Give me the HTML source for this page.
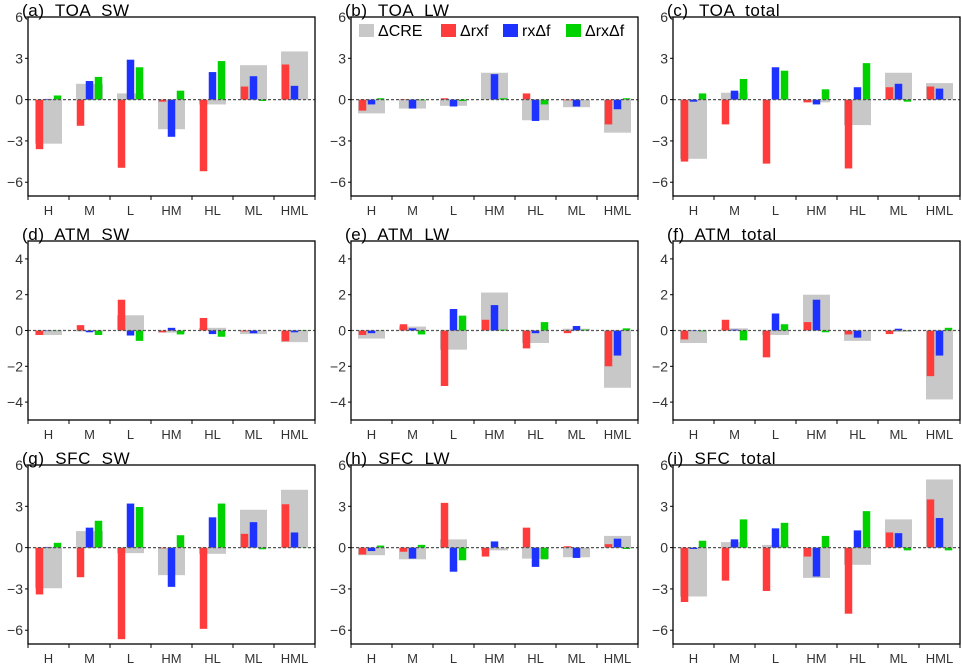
<!DOCTYPE html>
<html><head><meta charset="utf-8">
<style>
html,body{margin:0;padding:0;background:#fff;}
svg{display:block;font-family:"Liberation Sans",sans-serif;}
.ttl{white-space:pre;letter-spacing:0.6px;}
</style></head>
<body>
<svg id="chart" width="962" height="664" viewBox="0 0 962 664" xmlns="http://www.w3.org/2000/svg"></svg>
<script>
const categories = ["H","M","L","HM","HL","ML","HML"];
const panelTitles = ["(a)  TOA  SW","(b)  TOA  LW","(c)  TOA  total","(d)  ATM  SW","(e)  ATM  LW","(f)  ATM  total","(g)  SFC  SW","(h)  SFC  LW","(i)  SFC  total"];
const seriesNames = ["ΔCRE","Δrxf","rxΔf","ΔrxΔf"];
const rowYMin = [-7,-5,-7];
const rowYMax = [6,5,6];
const rowTicks = [[6,3,0,-3,-6],[4,2,0,-2,-4],[6,3,0,-3,-6]];
const creA=[-3.2,1.15,0.45,-2.15,-0.35,2.5,3.5], redA=[-3.6,-1.9,-4.95,-0.15,-5.2,0.95,2.55], bluA=[0.05,1.35,2.9,-2.7,2.0,1.7,1.0], grnA=[0.3,1.65,2.35,0.65,2.8,-0.1,0.0];
const creB=[-1.0,-0.65,-0.45,1.95,-1.5,-0.55,-2.4], redB=[-0.8,0.03,0.1,0.0,0.45,-0.05,-1.8], bluB=[-0.35,-0.65,-0.5,1.85,-1.55,-0.5,-0.7], grnB=[0.1,-0.05,-0.1,0.1,-0.35,0.0,0.1];
const creC=[-4.3,0.5,0.0,-0.2,-1.85,1.95,1.2], redC=[-4.5,-1.8,-4.65,-0.2,-5.0,0.9,0.95], bluC=[-0.15,0.65,2.35,-0.35,0.9,1.15,0.8], grnC=[0.45,1.5,2.1,0.75,2.65,-0.15,0.0];
const creD=[-0.25,-0.05,0.85,-0.12,0.15,-0.2,-0.65], redD=[-0.25,0.3,1.72,-0.1,0.7,-0.05,-0.6], bluD=[-0.03,-0.1,-0.28,0.15,-0.2,-0.15,-0.1], grnD=[-0.03,-0.25,-0.58,-0.22,-0.35,0.0,0.02];
const creE=[-0.45,0.22,-1.07,2.12,-0.7,0.1,-3.2], redE=[-0.25,0.35,-3.1,0.6,-1.0,-0.15,-2.0], bluE=[-0.15,0.12,1.2,1.42,-0.15,0.25,-1.4], grnE=[-0.02,-0.22,0.83,0.05,0.47,0.05,0.12];
const creF=[-0.7,0.12,-0.25,2.0,-0.58,-0.08,-3.85], redF=[-0.5,0.6,-1.5,0.47,-0.22,-0.2,-2.55], bluF=[-0.03,0.05,0.95,1.72,-0.4,0.1,-1.4], grnF=[-0.05,-0.55,0.35,-0.1,0.0,0.02,0.15];
const creG=[-2.95,1.2,-0.4,-2.0,-0.45,2.75,4.2], redG=[-3.4,-2.15,-6.65,-0.05,-5.9,1.0,3.15], bluG=[0.05,1.45,3.2,-2.85,2.2,1.85,1.1], grnG=[0.35,1.95,2.95,0.9,3.2,-0.12,0.02];
const creH=[-0.55,-0.85,0.6,-0.2,-0.8,-0.7,0.85], redH=[-0.5,-0.3,3.25,-0.65,1.45,0.1,0.25], bluH=[-0.25,-0.8,-1.75,0.45,-1.4,-0.75,0.65], grnH=[0.15,0.2,-0.92,0.0,-0.85,0.0,-0.1];
const creI=[-3.55,0.4,0.2,-2.2,-1.25,2.05,4.95], redI=[-3.95,-2.4,-3.15,-0.65,-4.8,1.1,3.5], bluI=[-0.1,0.6,1.4,-2.1,1.25,1.05,2.15], grnI=[0.5,2.05,1.8,0.85,2.65,-0.2,-0.2];
const panels=[[creA,redA,bluA,grnA],[creB,redB,bluB,grnB],[creC,redC,bluC,grnC],[creD,redD,bluD,grnD],[creE,redE,bluE,grnE],[creF,redF,bluF,grnF],[creG,redG,bluG,grnG],[creH,redH,bluH,grnH],[creI,redI,bluI,grnI]];

const NS="http://www.w3.org/2000/svg";
const svg=document.getElementById('chart');
const colors=["#c8c8c8","#ff3c3c","#1e32ff","#00d200"];
const colLeft=[28,351,673], rowTop=[17,241,465], PW=287, PH=179;
function mk(tag,attrs,parent){const e=document.createElementNS(NS,tag);for(const k in attrs)e.setAttribute(k,attrs[k]);(parent||svg).appendChild(e);return e;}

panels.forEach((p,pi)=>{
  const r=Math.floor(pi/3), c=pi%3;
  const x0=colLeft[c], y0=rowTop[r];
  const ymin=rowYMin[r], ymax=rowYMax[r];
  const ys=v=>y0+(ymax-v)/(ymax-ymin)*PH;
  const cw=PW/categories.length;
  const xc=i=>x0+cw*(i+0.5);
  const g=mk('g',{});
  
  
  const t=mk('text',{x:x0-6,y:y0-1,'font-size':17,fill:'#000','class':'ttl','xml:space':'preserve'},g);
  t.textContent=panelTitles[pi];
  
  
  const offs=[0,-9,0,9], widths=[27,7.5,7.5,7.5];
  p.forEach((vals,si)=>{
    vals.forEach((v,i)=>{
      const ya=ys(Math.max(v,0)), yb=ys(Math.min(v,0));
      const b=mk('rect',{x:xc(i)+offs[si]-widths[si]/2,y:ya,width:widths[si],height:Math.max(yb-ya,0.01),fill:colors[si]},g);
      
      
    });
  });
  const z=mk('line',{x1:x0,x2:x0+PW,y1:ys(0),y2:ys(0),stroke:'#555','stroke-width':1.2,'stroke-dasharray':'3,2'},g);
  
  
  const f=mk('rect',{x:x0,y:y0,width:PW,height:PH,fill:'none',stroke:'#000','stroke-width':1.3},g);
  
  
  rowTicks[r].forEach(tv=>{
    const yy=ys(tv);
    mk('line',{x1:x0-3,x2:x0,y1:yy,y2:yy,stroke:'#000','stroke-width':1},g);
    const lt=mk('text',{x:x0-5,y:yy+5,'font-size':14,'text-anchor':'end',fill:'#333'},g);
    lt.textContent=(tv<0?'−':'')+Math.abs(tv);
    
    
  });
  for(let i=0;i<=categories.length;i++){
    const xx=x0+cw*i;
    mk('line',{x1:xx,x2:xx,y1:y0+PH,y2:y0+PH+4,stroke:'#000','stroke-width':1},g);
  }
  categories.forEach((cn,i)=>{
    const xt=mk('text',{x:xc(i),y:y0+PH+19,'font-size':13,'text-anchor':'middle',fill:'#333'},g);
    xt.textContent=cn;
    
    
  });
});
const lg=mk('g',{});


const lx=[359,441,503,566];
seriesNames.forEach((n,i)=>{
  const sw=mk('rect',{x:lx[i],y:24,width:15,height:13,fill:colors[i]},lg);
  
  
  const tx=mk('text',{x:lx[i]+19,y:36,'font-size':16,fill:'#000'},lg);
  tx.textContent=n;
  
  
});
</script>
</body></html>
